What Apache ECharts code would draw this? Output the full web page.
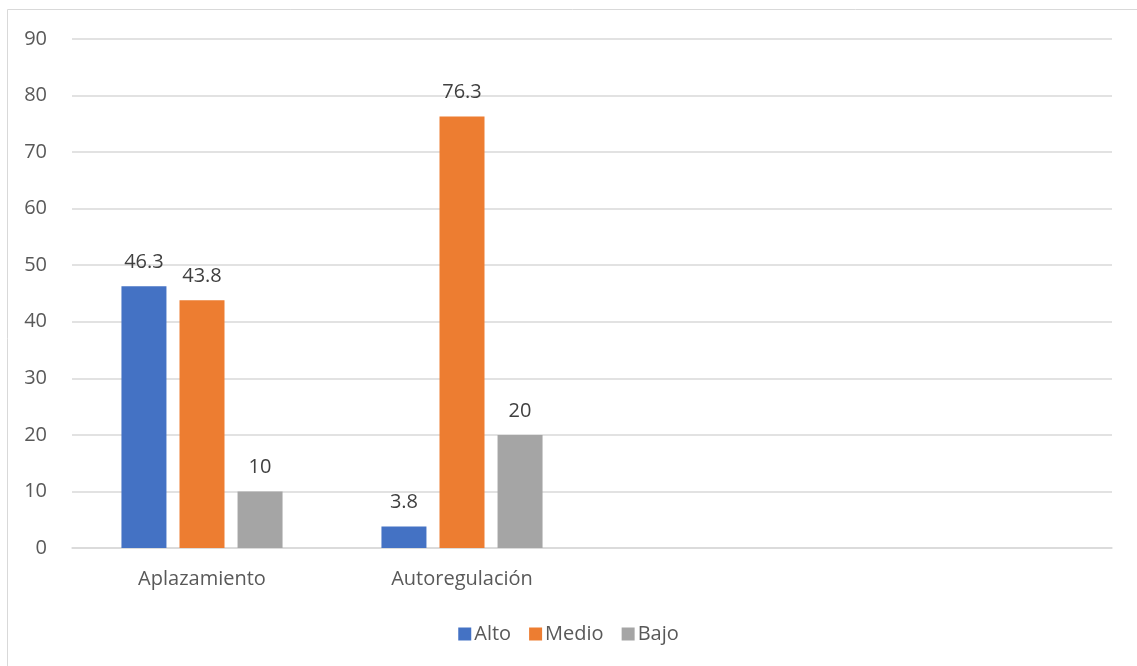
<!DOCTYPE html>
<html><head><meta charset="utf-8">
<script src="https://cdn.jsdelivr.net/npm/echarts@6/dist/echarts.min.js"></script>
<style>html,body{margin:0;padding:0;background:#fff}#c{width:1137px;height:666px}</style>
</head><body><div id="c"></div>
<script>
const categories = ['Aplazamiento', 'Autoregulación', '', ''];
const alto = [46.3, 3.8, null, null];
const medio = [43.8, 76.3, null, null];
const bajo = [10, 20, null, null];
const seriesNames = ['Alto', 'Medio', 'Bajo'];
const colors = ['#4472C4', '#ED7D31', '#A5A5A5'];
const font = 'Open Sans, Liberation Sans, sans-serif';
const chart = echarts.init(document.getElementById('c'));
const mk = (name, data, color) => ({
  name, type: 'bar', data, barWidth: 45, barGap: '29%',
  itemStyle: { color },
  label: { show: true, position: 'top', distance: 14, color: '#404040', fontSize: 20, fontFamily: font }
});
chart.setOption({
  animation: false,
  color: colors,
  graphic: [{ type: 'rect', shape: { x: 7.5, y: 9.5, width: 1200, height: 700 }, style: { fill: 'none', stroke: '#d9d9d9', lineWidth: 1 }, z: -1 }],
  grid: { left: 72, right: 25, top: 39, bottom: 118 },
  legend: {
    top: 619, left: 'center', itemWidth: 13, itemHeight: 13, itemGap: 18,
    icon: 'rect',
    textStyle: { color: '#595959', fontSize: 20, fontFamily: font, padding: [0, 0, 0, -2] },
    data: seriesNames
  },
  xAxis: {
    type: 'category', data: categories,
    axisLine: { lineStyle: { color: '#d9d9d9', width: 1.5 } },
    axisTick: { show: false },
    axisLabel: { color: '#595959', fontSize: 20, fontFamily: font, margin: 21 }
  },
  yAxis: {
    type: 'value', min: 0, max: 90, interval: 10,
    axisLine: { show: false }, axisTick: { show: false },
    splitLine: { lineStyle: { color: '#d9d9d9', width: 1.5 } },
    axisLabel: { color: '#595959', fontSize: 20, fontFamily: font, margin: 25 }
  },
  series: [mk(seriesNames[0], alto, colors[0]), mk(seriesNames[1], medio, colors[1]), mk(seriesNames[2], bajo, colors[2])]
});
</script></body></html>
